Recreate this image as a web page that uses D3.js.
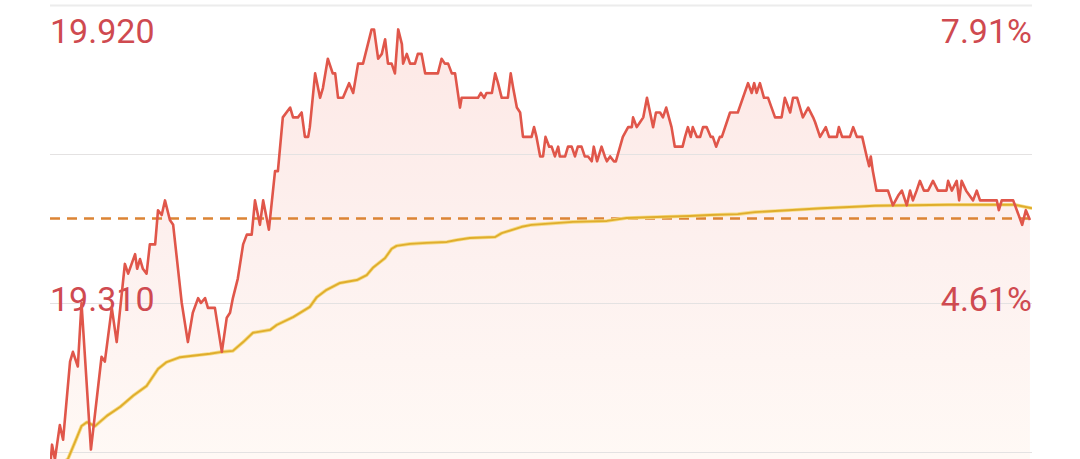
<!DOCTYPE html>
<html>
<head>
<meta charset="utf-8">
<script src="https://cdn.jsdelivr.net/npm/d3@7/dist/d3.min.js"></script>
<style>
  html, body { margin: 0; padding: 0; background: #ffffff; }
  svg { display: block; }
</style>
</head>
<body>
<svg id="chart" width="1080" height="459"></svg>
<script>
// ---- data (intraday, minutes since open) ----
const minutes = [0,0.5,1.2,2.4,3.2,4.9,5.6,6.8,7.7,10.0,12.6,13.4,15.1,16.3,18.3,19.1,20.8,21.3,22.0,22.7,23.6,24.4,25.7,26.4,27.3,28.1,29.3,30.1,32.2,33.7,34.9,36.2,36.9,37.9,38.6,40.3,42.0,43.2,44.0,44.7,45.9,47.2,48.1,49.3,50.1,51.3,52.1,53.5,55.0,55.7,56.9,58.7,59.4,60.6,61.5,62.3,63.1,63.5,64.8,66.0,66.7,67.9,69.1,69.7,70.4,71.6,73.1,74.1,75.3,76.5,78.6,79.2,80.2,81.1,81.9,82.6,83.5,84.3,85.1,86.0,86.3,87.2,88.0,89.2,89.9,90.8,91.7,94.8,95.7,96.5,97.3,98.2,99.0,100.2,100.6,104.6,105.3,106.1,106.7,108.0,108.8,109.5,110.4,111.9,112.6,113.2,114.1,114.9,115.6,117.7,118.3,118.9,119.8,120.5,121.1,122.0,122.6,123.4,124.2,124.6,125.9,126.6,127.5,128.3,129.0,129.9,130.7,131.5,132.4,132.9,133.7,134.8,135.6,136.1,136.9,137.8,138.3,140.0,141.3,142.2,142.5,143.4,144.2,145.0,145.9,147.4,148.1,149.1,149.8,150.6,151.9,152.7,154.6,155.2,155.9,156.6,157.1,158.1,158.9,159.6,160.5,161.5,162.0,162.8,163.7,164.2,166.2,168.1,170.6,171.5,172.1,172.7,173.5,174.5,175.5,177.2,178.8,179.6,180.9,181.6,182.6,184.0,185.3,186.5,187.0,188.2,189.6,190.4,192.3,192.8,193.6,195.5,196.3,197.2,198.5,199.6,200.2,200.6,201.1,202.0,204.8,206.0,207.3,208.2,209.4,210.2,210.9,211.8,212.6,213.6,214.6,215.8,217.0,219.1,219.5,220.4,221.6,222.2,222.8,223.9,225.6,226.5,227.3,231.4,231.9,232.6,235.4,236.3,237.6,238.5,239.5];
const prices = [18.97,19.02,18.99,19.06,19.03,19.19,19.21,19.18,19.31,19.01,19.20,19.19,19.30,19.23,19.39,19.37,19.41,19.38,19.40,19.38,19.37,19.43,19.43,19.50,19.49,19.52,19.48,19.47,19.31,19.23,19.29,19.32,19.31,19.32,19.30,19.30,19.21,19.28,19.29,19.32,19.36,19.43,19.45,19.45,19.52,19.47,19.52,19.46,19.58,19.58,19.69,19.71,19.69,19.69,19.70,19.65,19.65,19.67,19.78,19.73,19.75,19.81,19.78,19.78,19.73,19.73,19.76,19.74,19.80,19.80,19.87,19.87,19.81,19.82,19.85,19.80,19.80,19.78,19.87,19.84,19.80,19.82,19.80,19.80,19.82,19.82,19.78,19.78,19.81,19.80,19.80,19.78,19.78,19.71,19.73,19.73,19.74,19.73,19.74,19.74,19.78,19.76,19.73,19.73,19.78,19.75,19.71,19.70,19.65,19.65,19.67,19.65,19.61,19.61,19.65,19.63,19.63,19.61,19.63,19.61,19.61,19.63,19.63,19.61,19.63,19.63,19.61,19.61,19.60,19.63,19.60,19.63,19.61,19.60,19.61,19.60,19.60,19.65,19.67,19.67,19.69,19.67,19.68,19.69,19.73,19.67,19.70,19.70,19.69,19.71,19.67,19.63,19.63,19.65,19.67,19.65,19.67,19.65,19.65,19.67,19.67,19.65,19.65,19.63,19.65,19.65,19.70,19.70,19.76,19.74,19.76,19.74,19.76,19.73,19.73,19.69,19.69,19.73,19.70,19.73,19.73,19.69,19.71,19.69,19.68,19.65,19.67,19.65,19.65,19.67,19.65,19.65,19.67,19.65,19.65,19.61,19.59,19.61,19.58,19.54,19.54,19.51,19.53,19.54,19.51,19.54,19.52,19.54,19.56,19.54,19.54,19.56,19.54,19.54,19.56,19.54,19.56,19.52,19.56,19.54,19.52,19.54,19.52,19.52,19.50,19.52,19.52,19.50,19.47,19.50,19.48];

const avgMinutes = [0,4.4,6.1,7.7,9.0,11.0,13.9,17.1,20.3,23.6,26.4,28.5,31.8,34.9,39.1,42.0,44.7,47.2,49.6,53.8,55.4,59.4,63.5,65.2,67.6,70.9,75.0,77.4,78.9,80.7,81.9,83.5,84.7,88.0,92.1,97.0,99.4,102.6,108.8,110.4,115.3,117.7,121.0,127.8,136.1,140.9,148.3,156.4,161.3,168.1,172.3,180.4,188.6,196.7,201.6,219.5,235.8,240];
const avgPrices = [18.96,18.991,19.025,19.058,19.066,19.058,19.079,19.097,19.120,19.140,19.175,19.189,19.199,19.202,19.206,19.210,19.212,19.230,19.249,19.255,19.265,19.281,19.302,19.322,19.337,19.351,19.357,19.367,19.382,19.394,19.402,19.421,19.427,19.431,19.433,19.435,19.439,19.443,19.445,19.453,19.466,19.470,19.472,19.476,19.478,19.484,19.486,19.488,19.490,19.492,19.496,19.500,19.504,19.507,19.509,19.511,19.511,19.504];

const gridPrices = [19.920, 19.615, 19.310, 19.005];
const labelPrices = [19.920, 19.310];
const leftLabels = ["19.920", "19.310"];
const rightLabels = ["7.91%", "4.61%"];
const sessionMinutes = [0, 240];

// ---- drawing ----
const W = 1080, H = 459;
const left = 50, right = 1032;
const svg = d3.select("#chart");

const x = d3.scaleLinear().domain(sessionMinutes).range([left, right]);
const y = d3.scaleLinear().domain([labelPrices[1], labelPrices[0]]).range([303, 5]);

const series = minutes.map((m, i) => ({ m, p: prices[i] }));
const avgSeries = avgMinutes.map((m, i) => ({ m, p: avgPrices[i] }));
const lastPrice = prices[prices.length - 1];

const defs = svg.append("defs");
defs.append("clipPath").attr("id", "plotClip")
  .append("rect").attr("x", left).attr("y", 0).attr("width", right - left).attr("height", H);

const grad = defs.append("linearGradient").attr("id", "fillGrad")
  .attr("gradientUnits", "userSpaceOnUse")
  .attr("x1", 0).attr("x2", 0).attr("y1", 20).attr("y2", H);
grad.append("stop").attr("offset", "0%").attr("stop-color", "#fde8e5");
grad.append("stop").attr("offset", "55%").attr("stop-color", "#fdf1ef");
grad.append("stop").attr("offset", "100%").attr("stop-color", "#fff9f5");

const plot = svg.append("g").attr("clip-path", "url(#plotClip)");

// area under price
const area = d3.area()
  .x(d => x(d.m))
  .y0(H + 40)
  .y1(d => y(d.p));
plot.append("path").datum(series)
  .attr("d", area)
  .attr("fill", "url(#fillGrad)");

// grid lines
svg.append("g").selectAll("line").data(gridPrices).join("line")
  .attr("x1", left).attr("x2", right)
  .attr("y1", d => Math.round(y(d)) + 0.5).attr("y2", d => Math.round(y(d)) + 0.5)
  .attr("stroke", (d, i) => i === 0 ? "#ececec" : "#e4e2e2")
  .attr("stroke-width", (d, i) => i === 0 ? 2 : 1);

// labels (drawn beneath the lines): top label below its grid line, others centred on their line
const labelOffset = (d, i) => i === 0 ? 38 : 8;
const txt = svg.append("g")
  .attr("font-family", "Roboto, 'Noto Sans', sans-serif")
  .attr("font-size", 34)
  .attr("fill", "#cf4a50");
txt.selectAll("text.left").data(labelPrices).join("text")
  .attr("class", "left")
  .attr("x", left)
  .attr("y", (d, i) => y(d) + labelOffset(d, i))
  .text((d, i) => leftLabels[i]);
txt.selectAll("text.right").data(labelPrices).join("text")
  .attr("class", "right")
  .attr("x", right)
  .attr("y", (d, i) => y(d) + labelOffset(d, i))
  .attr("text-anchor", "end")
  .text((d, i) => rightLabels[i]);

// current price dashed line
svg.append("line")
  .attr("x1", left).attr("x2", right)
  .attr("y1", y(lastPrice) - 1.5).attr("y2", y(lastPrice) - 1.5)
  .attr("stroke", "#dc8434")
  .attr("stroke-width", 2.6)
  .attr("stroke-dasharray", "10,7");

const lines = svg.append("g").attr("clip-path", "url(#plotClip)");

// average line (with soft halo)
const line = d3.line().x(d => x(d.m)).y(d => y(d.p));
lines.append("path").datum(avgSeries)
  .attr("d", line)
  .attr("fill", "none")
  .attr("stroke", "#f6dc8a")
  .attr("stroke-width", 3.6)
  .attr("stroke-linejoin", "round");
lines.append("path").datum(avgSeries)
  .attr("d", line)
  .attr("fill", "none")
  .attr("stroke", "#e0ad2c")
  .attr("stroke-width", 1.9)
  .attr("stroke-linejoin", "round");

// price line
lines.append("path").datum(series)
  .attr("d", line)
  .attr("fill", "none")
  .attr("stroke", "#e0564a")
  .attr("stroke-width", 2.6)
  .attr("stroke-linejoin", "round");
</script>
</body>
</html>
